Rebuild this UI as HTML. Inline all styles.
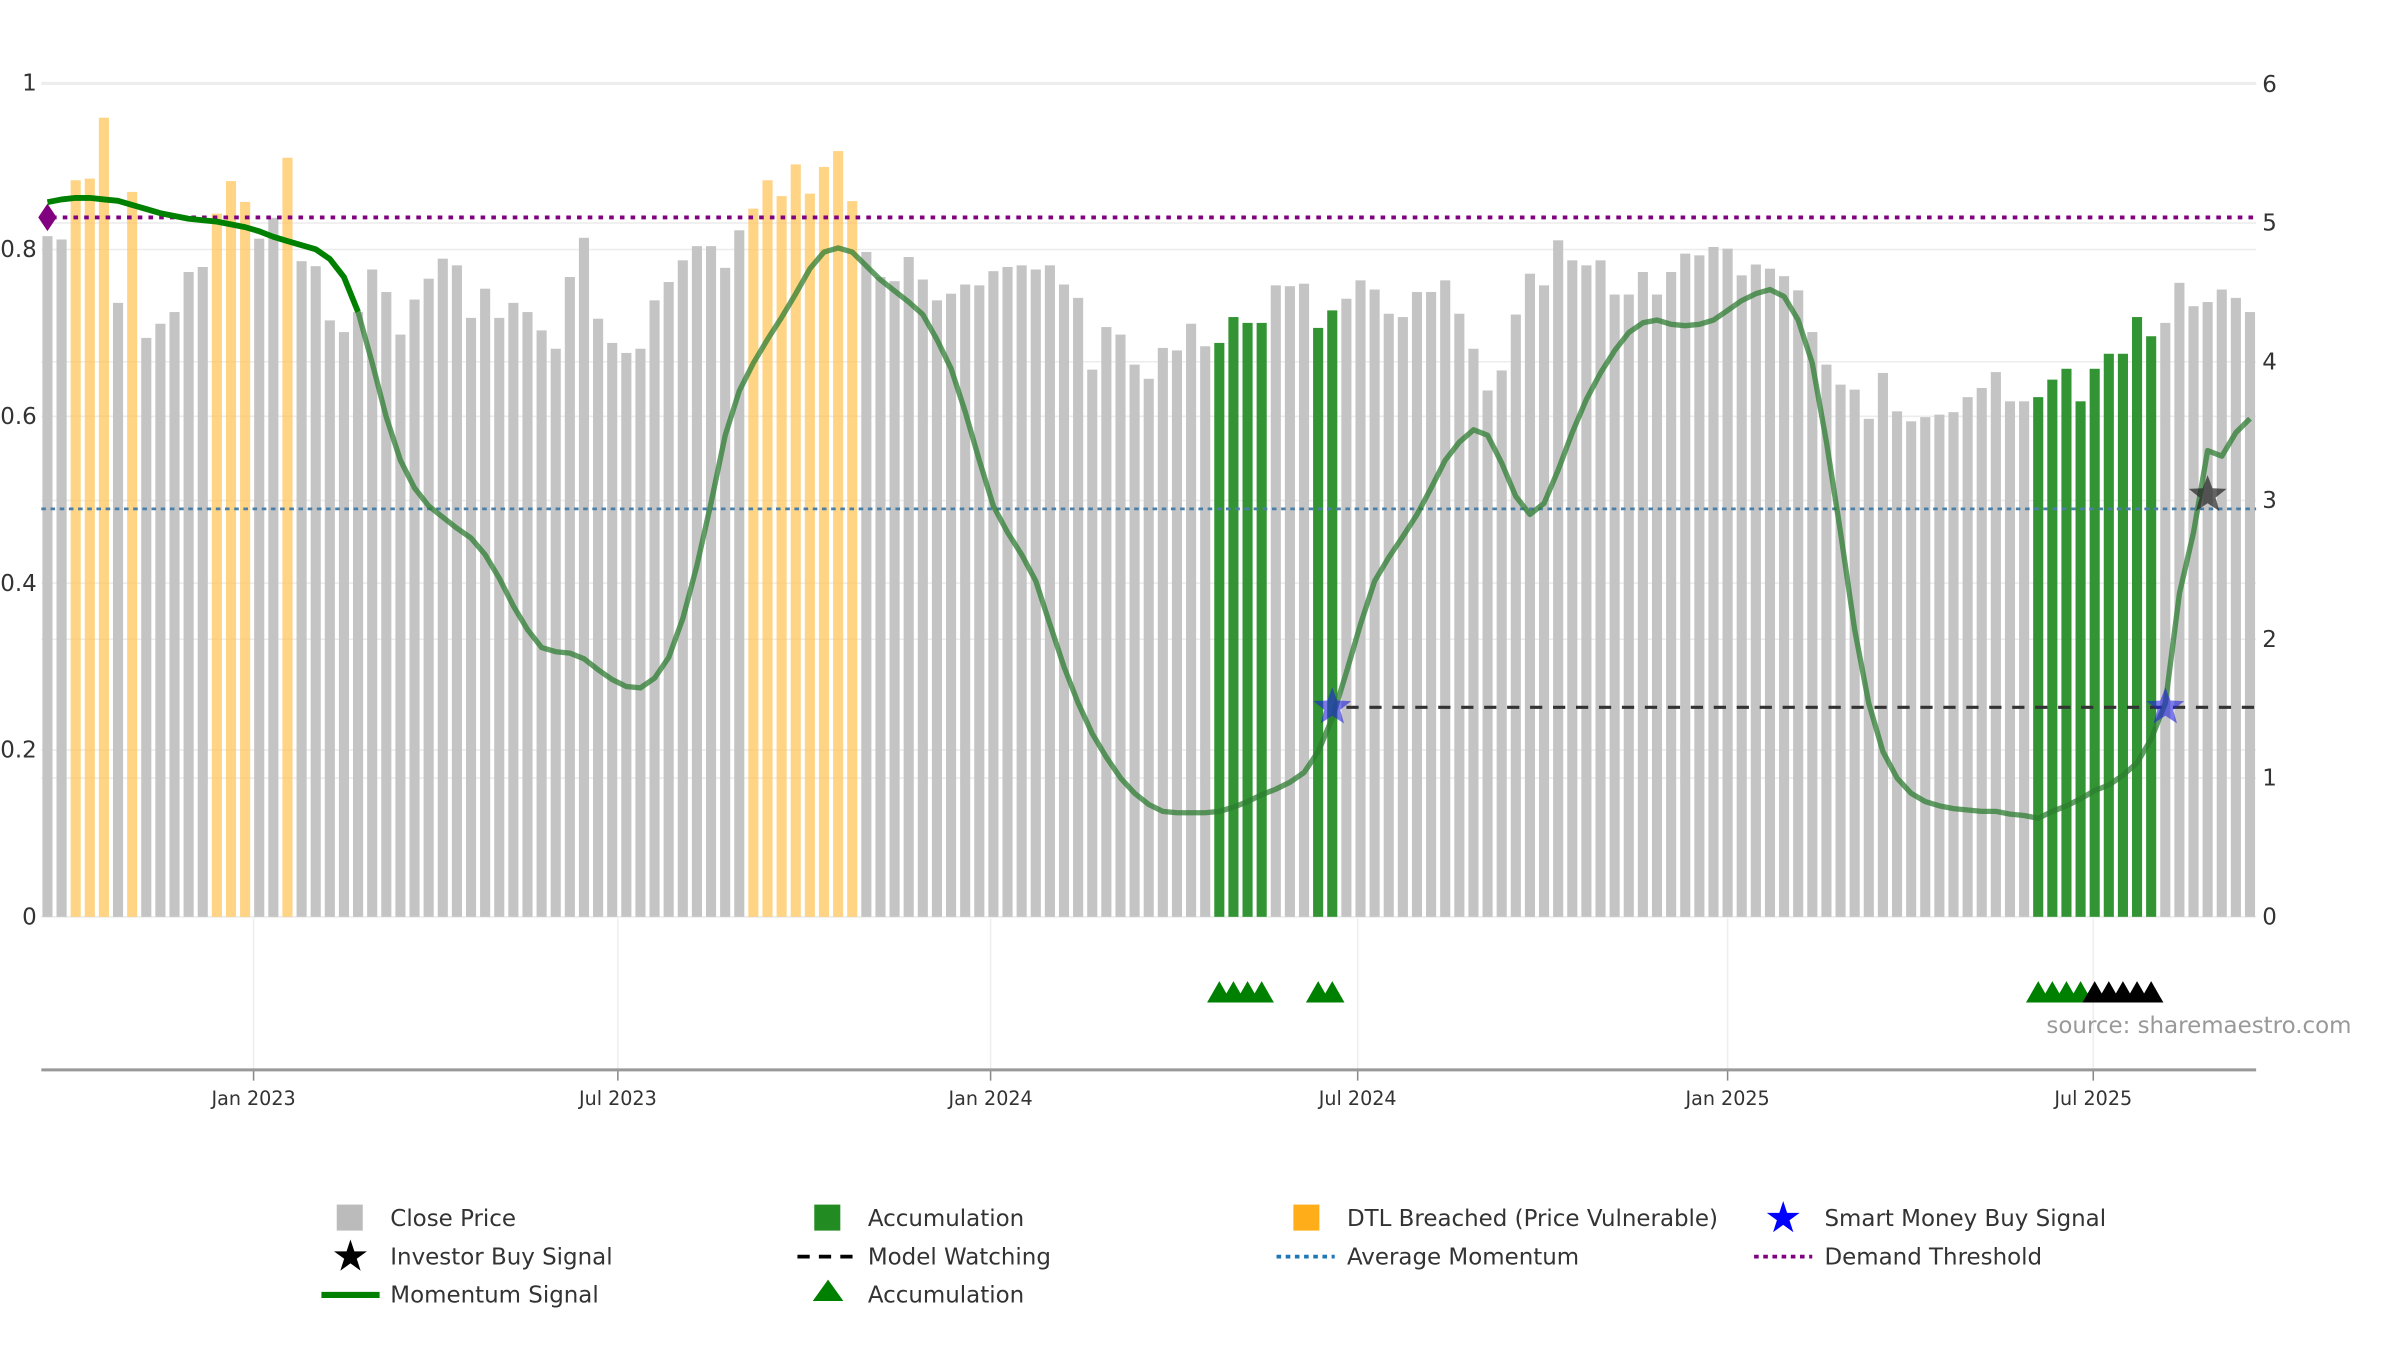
<!DOCTYPE html>
<html><head><meta charset="utf-8"><style>
html,body{margin:0;padding:0;background:#fff;}
svg{display:block;font-family:"DejaVu Sans","Liberation Sans",sans-serif;}
</style></head><body>
<svg id="chart" width="2400" height="1350" viewBox="0 0 1568 882" preserveAspectRatio="none" xmlns="http://www.w3.org/2000/svg">
<g id="grid"></g>
<g id="bars"></g>
<g id="lines"></g>
<g id="mom"></g>
<g id="marks"></g>
<g id="axes"></g>
<text x="1337" y="675" font-size="15" fill="#999">source: sharemaestro.com</text>
<g font-size="15" fill="#333">
 <g><rect x="220" y="787" width="17" height="17" fill="#bbb"/><text x="255" y="801">Close Price</text></g>
 <g><rect x="532" y="787" width="17" height="17" fill="#228b22"/><text x="567" y="801">Accumulation</text></g>
 <g><rect x="845" y="787" width="17" height="17" fill="#ffa500" opacity="0.9"/><text x="880" y="801">DTL Breached (Price Vulnerable)</text></g>
 <g><text x="1165" y="805" font-size="28" fill="#0000ff" text-anchor="middle">★</text><text x="1192" y="801">Smart Money Buy Signal</text></g>
 <g><text x="229" y="830" font-size="28" fill="#000" text-anchor="middle">★</text><text x="255" y="826">Investor Buy Signal</text></g>
 <g><line x1="521" y1="821" x2="559" y2="821" stroke="#000" stroke-width="2.5" stroke-dasharray="8,6"/><text x="567" y="826">Model Watching</text></g>
 <g><line x1="834" y1="821" x2="872" y2="821" stroke="#1f77b4" stroke-width="2.5" stroke-dasharray="3,3"/><text x="880" y="826">Average Momentum</text></g>
 <g><line x1="1146" y1="821" x2="1184" y2="821" stroke="#800080" stroke-width="2.5" stroke-dasharray="3,3"/><text x="1192" y="826">Demand Threshold</text></g>
 <g><line x1="210" y1="846" x2="248" y2="846" stroke="#008000" stroke-width="4"/><text x="255" y="851">Momentum Signal</text></g>
 <g><polygon points="531,850 541,836 551,850" fill="#008000"/><text x="567" y="851">Accumulation</text></g>
</g>
</svg>
<script>
const closePrice=[0.816,0.812,0.883,0.885,0.958,0.736,0.869,0.694,0.711,0.725,0.773,0.779,0.843,0.882,0.857,0.813,0.838,0.910,0.786,0.780,
0.715,0.701,0.725,0.776,0.749,0.698,0.740,0.765,0.789,0.781,0.718,0.753,0.718,0.736,0.725,0.703,0.681,0.767,0.814,0.717,
0.688,0.676,0.681,0.739,0.761,0.787,0.804,0.804,0.778,0.823,0.849,0.883,0.864,0.902,0.867,0.899,0.918,0.858,0.797,0.767,
0.762,0.791,0.764,0.739,0.747,0.758,0.757,0.774,0.779,0.781,0.776,0.781,0.758,0.742,0.656,0.707,0.698,0.662,0.645,0.682,
0.679,0.711,0.684,0.688,0.719,0.712,0.712,0.757,0.756,0.759,0.706,0.727,0.741,0.763,0.752,0.723,0.719,0.749,0.749,0.763,
0.723,0.681,0.631,0.655,0.722,0.771,0.757,0.811,0.787,0.781,0.787,0.746,0.746,0.773,0.746,0.773,0.795,0.793,0.803,0.801,
0.769,0.782,0.777,0.768,0.751,0.701,0.662,0.638,0.632,0.597,0.652,0.606,0.594,0.599,0.602,0.605,0.623,0.634,0.653,0.618,
0.618,0.623,0.644,0.657,0.618,0.657,0.675,0.675,0.719,0.696,0.712,0.760,0.732,0.737,0.752,0.742,0.725];
const momentum=[5.15,5.17,5.18,5.18,5.17,5.16,5.13,5.10,5.07,5.05,5.03,5.02,5.01,4.99,4.97,4.94,4.90,4.87,4.84,4.81,
4.74,4.61,4.36,3.99,3.60,3.29,3.09,2.96,2.88,2.80,2.73,2.61,2.44,2.24,2.07,1.94,1.91,1.90,1.86,1.78,
1.71,1.66,1.65,1.72,1.87,2.15,2.53,2.98,3.47,3.79,3.99,4.16,4.32,4.49,4.67,4.79,4.82,4.79,4.69,4.59,
4.51,4.43,4.34,4.16,3.95,3.64,3.29,2.96,2.77,2.61,2.42,2.11,1.80,1.54,1.32,1.15,1.00,0.89,0.81,0.76,
0.75,0.75,0.75,0.76,0.79,0.83,0.88,0.92,0.97,1.04,1.19,1.43,1.76,2.11,2.42,2.59,2.74,2.90,3.09,3.29,
3.42,3.51,3.47,3.27,3.03,2.90,2.98,3.22,3.49,3.73,3.92,4.08,4.21,4.28,4.30,4.27,4.26,4.27,4.30,4.37,
4.44,4.49,4.52,4.47,4.30,3.99,3.42,2.77,2.07,1.54,1.19,1.00,0.89,0.83,0.80,0.78,0.77,0.76,0.76,0.74,
0.73,0.71,0.76,0.80,0.85,0.91,0.95,1.02,1.11,1.28,1.54,2.33,2.77,3.36,3.32,3.49,3.59];
const accumIdx=[83,84,85,86,90,91,141,142,143,144,145,146,147,148,149];
const dtlIdx=[2,3,4,6,12,13,14,17,50,51,52,53,54,55,56,57];
const greenTriIdx=[83,84,85,86,90,91,141,142,143,144];
const blackTriIdx=[145,146,147,148,149];
const smartMoney=[{i:91,v:1.51},{i:150,v:1.51}];
const investorBuy=[{i:153,v:3.04}];
const demandThreshold=5.04, avgMomentum=2.94, modelWatching=1.51, watchStart=92;
const leftTicks=[0,0.2,0.4,0.6,0.8,1];
const leftTickLabels=["0","0.2","0.4","0.6","0.8","1"];
const rightTicks=[0,1,2,3,4,5,6];
const dateTicks=["Jan 2023","Jul 2023","Jan 2024","Jul 2024","Jan 2025","Jul 2025"];
const dateTickIdx=[14.6,40.4,66.8,92.8,119.0,144.9];

const NS="http://www.w3.org/2000/svg";
const X0=31, DX=(1470-31)/(closePrice.length-1);
const xS=i=>X0+i*DX;
const yL=v=>599-v*545;
const yR=v=>599-v*(544/6);
function mk(tag,attrs,parent){const e=document.createElementNS(NS,tag);for(const k in attrs)e.setAttribute(k,attrs[k]);document.getElementById(parent).appendChild(e);return e;}

leftTicks.forEach((t,k)=>{
 const g=mk('line',{x1:27,x2:1474,y1:yL(t),y2:yL(t),stroke:'#ececec','stroke-width':1},'grid');
 
 
 const tx=mk('text',{x:24,y:yL(t)+5,'font-size':15,fill:'#333','text-anchor':'end'},'axes');
 tx.textContent=leftTickLabels[k];
 
 
});
rightTicks.forEach(t=>{
 const g=mk('line',{x1:27,x2:1474,y1:yR(t),y2:yR(t),stroke:'#ececec','stroke-width':1},'grid');
 
 
 const tx=mk('text',{x:1478,y:yR(t)+5,'font-size':15,fill:'#333'},'axes');
 tx.textContent=String(t);
 
 
});
dateTicks.forEach((d,k)=>{
 const x=xS(dateTickIdx[k]);
 const g=mk('line',{x1:x,x2:x,y1:600,y2:699,stroke:'#eee','stroke-width':1},'grid');
 
 
 const tk=mk('line',{x1:x,x2:x,y1:699,y2:706,stroke:'#888','stroke-width':1},'axes');
 
 
 const tx=mk('text',{x:x,y:722,'font-size':12.5,fill:'#333','text-anchor':'middle'},'axes');
 tx.textContent=d;
 
 
});
const ax=mk('line',{x1:27,x2:1474,y1:699,y2:699,stroke:'#999','stroke-width':2},'axes');



closePrice.forEach((v,i)=>{
 let fill='#c4c4c4',op=1,name='close-price-bar';
 if(accumIdx.includes(i)){fill='#228b22';op=0.92;name='accumulation-bar';}
 else if(dtlIdx.includes(i)){fill='#ffc65c';op=0.75;name='dtl-breached-bar';}
 const r=mk('rect',{x:xS(i)-3.3,y:yL(v),width:6.6,height:599-yL(v),fill:fill,opacity:op},'bars');
 
 
});

const dl=mk('line',{x1:27,x2:1474,y1:yR(demandThreshold),y2:yR(demandThreshold),stroke:'#800080','stroke-width':2.5,'stroke-dasharray':'3,4'},'lines');


const al=mk('line',{x1:27,x2:1474,y1:yR(avgMomentum),y2:yR(avgMomentum),stroke:'#4a7fa8','stroke-width':1.8,'stroke-dasharray':'3,3'},'lines');


const ml=mk('line',{x1:xS(watchStart),x2:1474,y1:yR(modelWatching),y2:yR(modelWatching),stroke:'#333','stroke-width':2,'stroke-dasharray':'8,7'},'lines');



function pathFor(a,b){let d='';for(let i=a;i<=b;i++)d+=(i===a?'M':'L')+xS(i).toFixed(1)+','+yR(momentum[i]).toFixed(1);return d;}
const p2=mk('path',{d:pathFor(21,momentum.length-1),fill:'none',stroke:'#2e7d32','stroke-width':3.5,opacity:0.75,'stroke-linejoin':'round'},'mom');


const p1=mk('path',{d:pathFor(0,22),fill:'none',stroke:'#008000','stroke-width':3.8,'stroke-linejoin':'round'},'mom');



const dm=mk('polygon',{points:`${xS(0)-6},${yR(demandThreshold)} ${xS(0)},${yR(demandThreshold)-9} ${xS(0)+6},${yR(demandThreshold)} ${xS(0)},${yR(demandThreshold)+9}`,fill:'#800080'},'marks');



function star(cx,cy,R,fill,op,name){
 let pts=[];for(let k=0;k<10;k++){const r=k%2?R*0.42:R;const a=-Math.PI/2+k*Math.PI/5;pts.push((cx+r*Math.cos(a)).toFixed(1)+','+(cy+r*Math.sin(a)).toFixed(1));}
 const s=mk('polygon',{points:pts.join(' '),fill:fill,opacity:op},'marks');
 
 
}
smartMoney.forEach(p=>star(xS(p.i),yR(p.v),13,'#2222dd',0.6,'smart-money-star'));
investorBuy.forEach(p=>star(xS(p.i),yR(p.v),13,'#222',0.7,'investor-buy-star'));

function tri(i,fill,name){
 const x=xS(i);
 const t=mk('polygon',{points:`${x-8},655 ${x},641 ${x+8},655`,fill:fill},'marks');
 
 
}
greenTriIdx.forEach(i=>tri(i,'#008000','accumulation-triangle'));
blackTriIdx.forEach(i=>tri(i,'#000','investor-triangle'));
</script>
</body></html>
